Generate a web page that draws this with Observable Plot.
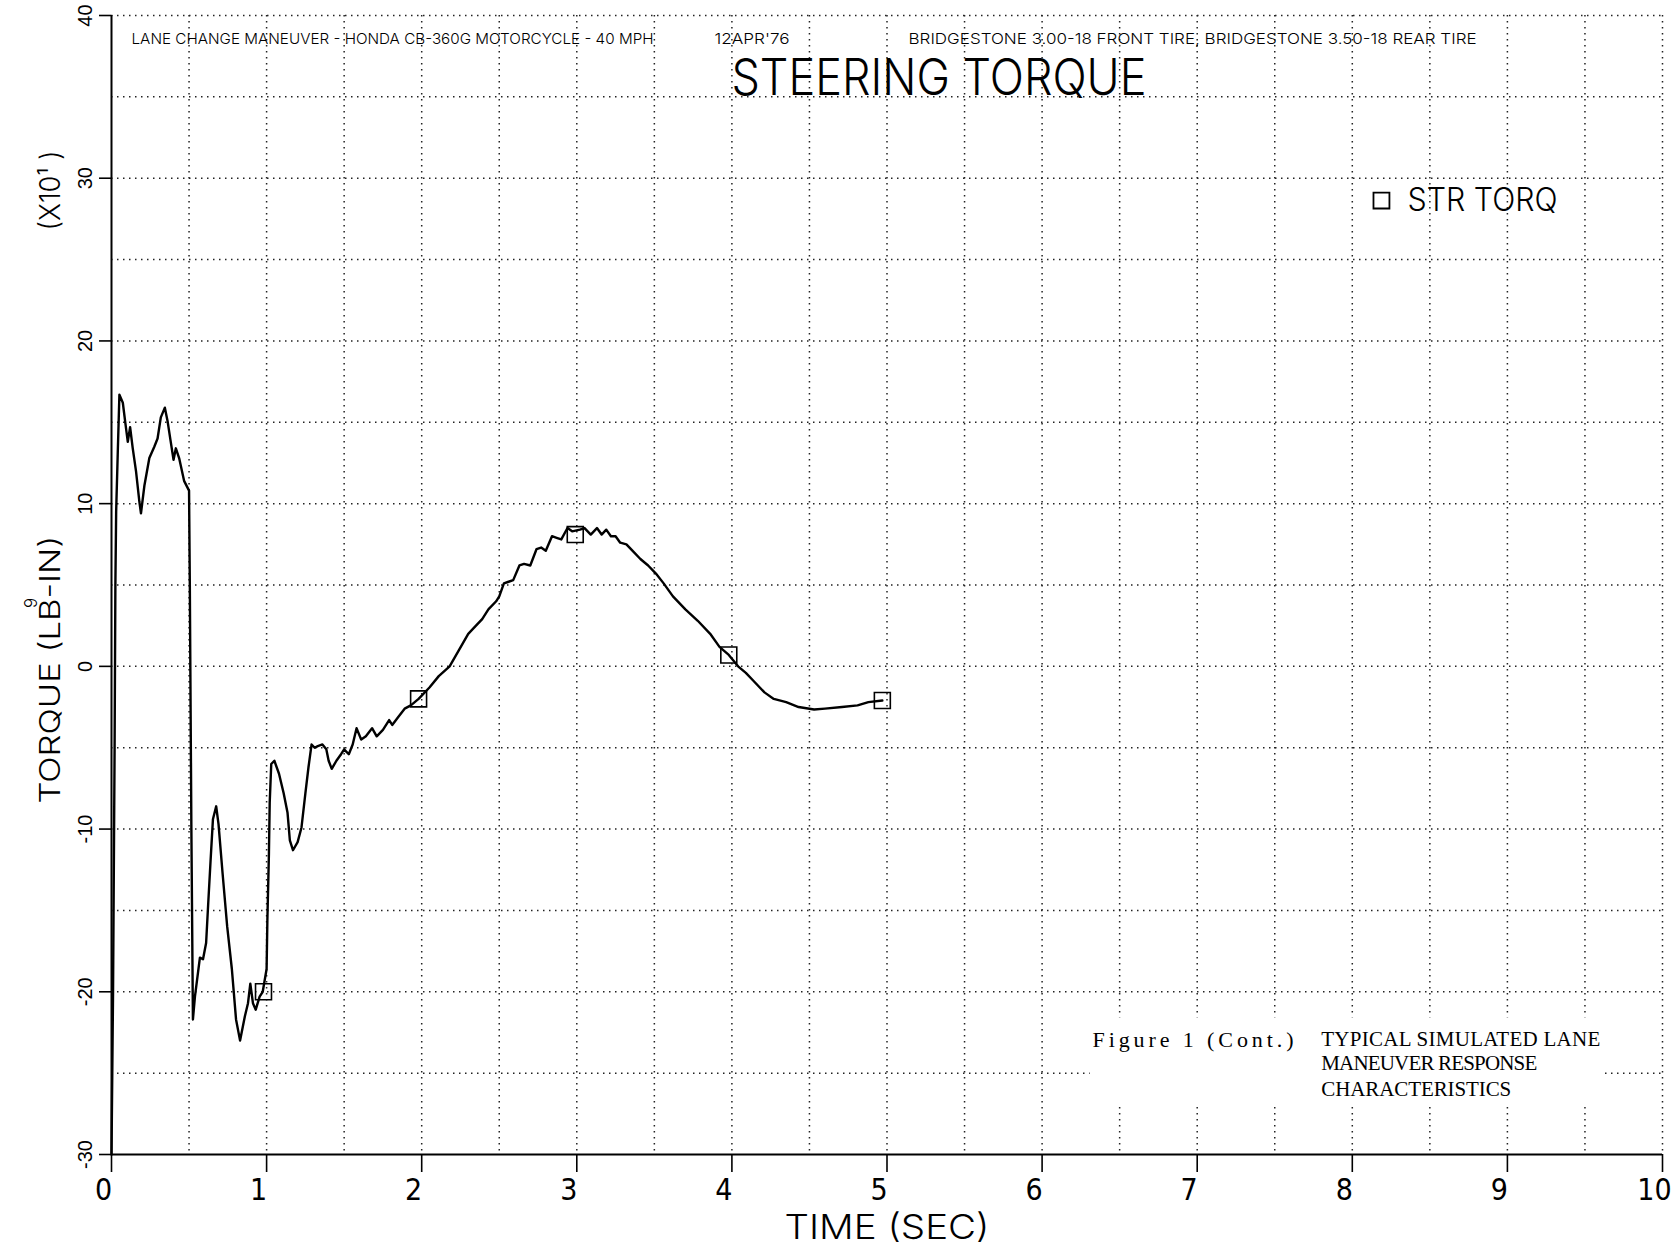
<!DOCTYPE html>
<html><head><meta charset="utf-8">
<script src="https://cdn.jsdelivr.net/npm/d3@7"></script>
<script src="https://cdn.jsdelivr.net/npm/@observablehq/plot@0.6"></script>
<style>
html,body{margin:0;padding:0;background:#fff;}
#chart{width:1679px;height:1246px;overflow:hidden;}
</style></head><body><div id="chart"></div>
<script>
// ---- data ----
const timeSec = [0.00,0.01,0.02,0.025,0.03,0.04,0.051,0.073,0.09,0.105,0.12,0.137,0.158,0.18,0.19,0.212,0.244,0.276,0.297,0.318,0.344,0.361,0.382,0.40,0.415,0.436,0.468,0.50,0.505,0.515,0.525,0.538,0.57,0.59,0.61,0.624,0.639,0.654,0.675,0.69,0.716,0.746,0.776,0.803,0.829,0.86,0.88,0.895,0.912,0.93,0.955,0.975,1.00,1.005,1.015,1.02,1.03,1.05,1.08,1.11,1.135,1.15,1.17,1.20,1.225,1.25,1.27,1.29,1.31,1.33,1.36,1.385,1.40,1.42,1.45,1.48,1.50,1.53,1.555,1.58,1.61,1.64,1.68,1.71,1.75,1.79,1.81,1.85,1.89,1.93,1.98,2.05,2.11,2.18,2.24,2.30,2.35,2.39,2.43,2.48,2.50,2.53,2.56,2.59,2.63,2.66,2.70,2.74,2.77,2.80,2.84,2.87,2.90,2.94,2.97,3.02,3.05,3.09,3.13,3.16,3.19,3.22,3.25,3.28,3.32,3.36,3.41,3.46,3.51,3.56,3.62,3.70,3.78,3.86,3.92,3.98,4.04,4.09,4.14,4.21,4.27,4.35,4.43,4.53,4.60,4.71,4.81,4.88,4.97];
const torque = [-30.0,-20.0,-5.0,5.0,9.5,13.0,16.7,16.2,14.9,13.8,14.7,13.4,12.0,10.1,9.4,11.1,12.8,13.5,14.0,15.3,15.9,15.1,13.8,12.7,13.4,12.8,11.4,10.8,5.0,-10.0,-21.7,-20.3,-17.9,-18.0,-17.0,-14.5,-11.9,-9.4,-8.6,-9.7,-12.7,-16.0,-18.6,-21.7,-23.0,-21.5,-20.7,-19.5,-20.7,-21.1,-20.3,-20.0,-18.6,-15.6,-11.5,-8.4,-6.0,-5.8,-6.6,-7.8,-9.0,-10.7,-11.3,-10.8,-9.9,-7.8,-6.2,-4.8,-5.0,-4.9,-4.8,-5.1,-5.8,-6.3,-5.8,-5.4,-5.1,-5.4,-4.8,-3.8,-4.5,-4.3,-3.8,-4.3,-3.9,-3.3,-3.6,-3.1,-2.6,-2.4,-2.0,-1.3,-0.6,0.0,1.0,2.0,2.5,2.9,3.5,4.0,4.3,5.1,5.2,5.3,6.2,6.3,6.2,7.2,7.3,7.1,8.0,7.9,7.8,8.5,8.3,8.4,8.5,8.1,8.5,8.1,8.4,8.0,8.0,7.6,7.5,7.1,6.6,6.2,5.7,5.1,4.3,3.5,2.8,2.0,1.2,0.7,0.0,-0.4,-0.9,-1.6,-2.0,-2.2,-2.5,-2.65,-2.6,-2.5,-2.4,-2.2,-2.1];
const markerTime = [0.98, 1.98, 2.99, 3.98, 4.97];
const markerTorque = [-20.0, -2.0, 8.1, 0.7, -2.1];
const xTickValues = [0,1,2,3,4,5,6,7,8,9,10];
const yTickValues = [-30,-20,-10,0,10,20,30,40];
const xGridValues = [0.5,1,1.5,2,2.5,3,3.5,4,4.5,5,5.5,6,6.5,7,7.5,8,8.5,9,9.5,10];
const yGridValues = [-25,-20,-15,-10,-5,0,5,10,15,20,25,30,35,40];
const headerLeft = "LANE CHANGE MANEUVER - HONDA CB-360G MOTORCYCLE - 40 MPH";
const headerDate = "12APR'76";
const headerRight = "BRIDGESTONE 3.00-18 FRONT TIRE, BRIDGESTONE 3.50-18 REAR TIRE";
const titleText = "STEERING TORQUE";
const legendLabel = "STR TORQ";
const xLabel = "TIME (SEC)";
const yLabel = "TORQUE (LB-IN)";
const yScaleNote = "(X10\u00B9 )";
const yFootnote = "9";
const captionLeft = "Figure 1 (Cont.)";
const captionRight = ["TYPICAL SIMULATED LANE", "MANEUVER RESPONSE", "CHARACTERISTICS"];

// ---- build tables ----
const curve = timeSec.map((t, i) => ({t, v: torque[i]}));
const markers = markerTime.map((t, i) => ({t, v: markerTorque[i]}));

const narrowFont = "'Liberation Sans Narrow', 'DejaVu Sans Condensed', sans-serif";
const thinFont = "Inter, 'Liberation Sans Narrow', sans-serif";
const tickFontY = "'Liberation Sans', 'DejaVu Sans', sans-serif";
const typeFont = "'Liberation Serif', 'DejaVu Serif', serif";
const dotted = {stroke: "#222", strokeOpacity: 1, strokeWidth: 1.5, strokeDasharray: "1.5,4.5"};
const thin = {fontFamily: thinFont, fontWeight: 300};

const chart = Plot.plot({
  width: 1679, height: 1246,
  marginLeft: 111, marginRight: 17, marginTop: 15, marginBottom: 92,
  x: {domain: [0, 10]},
  y: {domain: [-30, 40]},
  style: {fontFamily: narrowFont, background: "white", color: "black", overflow: "visible"},
  marks: [
    Plot.gridX(xGridValues, dotted),
    Plot.gridY(yGridValues, dotted),
    // blank patch under the pasted caption
    Plot.rect([captionLeft], {x1: () => 6.31, x2: () => 9.63, y1: () => -26.9, y2: () => -21.6, fill: "white"}),
    Plot.ruleX([0], {stroke: "black", strokeWidth: 2}),
    Plot.ruleY([-30], {stroke: "black", strokeWidth: 2}),
    Plot.axisX({ticks: xTickValues, tickSize: 18, tickFormat: () => "", label: null, stroke: "black", strokeWidth: 1.6}),
    Plot.axisY({ticks: yTickValues, tickSize: 12, tickFormat: () => "", label: null, stroke: "black", strokeWidth: 1.6}),
    Plot.text(xTickValues, {x: d => d, y: () => -30, dx: -8, dy: 36, text: d => String(d), fontSize: 30, lineAnchor: "middle", textAnchor: "middle"}),
    Plot.text(yTickValues, {x: () => 0, y: d => d, dx: -26, text: d => String(d), fontFamily: tickFontY, fontSize: 20, rotate: -90, lineAnchor: "middle", textAnchor: "middle"}),
    // data
    Plot.line(curve, {x: "t", y: "v", stroke: "black", strokeWidth: 2.4, strokeLinejoin: "round"}),
    Plot.dot(markers, {x: "t", y: "v", symbol: "square", r: 9, stroke: "black", strokeWidth: 1.6, fill: "none"}),
    // legend
    Plot.dot([legendLabel], {x: () => 8.188, y: () => 28.63, symbol: "square", r: 9, stroke: "black", strokeWidth: 1.8, fill: "none"}),
    Plot.text([legendLabel], {x: () => 8.356, y: () => 28.63, text: d => d, fontSize: 32, textAnchor: "start", lineAnchor: "middle", ...thin}),
    // headers
    Plot.text([headerLeft], {x: () => 0.129, y: () => 38.55, text: d => d, fontSize: 15, textAnchor: "start", lineAnchor: "middle", ...thin}),
    Plot.text([headerDate], {x: () => 3.888, y: () => 38.55, text: d => d, fontSize: 15, textAnchor: "start", lineAnchor: "middle", ...thin}),
    Plot.text([headerRight], {x: () => 5.139, y: () => 38.55, text: d => d, fontSize: 15, textAnchor: "start", lineAnchor: "middle", ...thin}),
    Plot.text([titleText], {x: () => 3.997, y: () => 36.1, text: d => d, fontSize: 50, textAnchor: "start", lineAnchor: "middle", ...thin}),
    // axis titles
    Plot.text([xLabel], {x: () => 5, y: () => -30, dy: 74, text: d => d, fontSize: 34, textAnchor: "middle", lineAnchor: "middle", ...thin}),
    Plot.text([yLabel], {x: () => 0, y: () => -0.2, dx: -60, text: d => d, fontSize: 28, rotate: -90, textAnchor: "middle", lineAnchor: "middle", ...thin}),
    Plot.text([yScaleNote], {x: () => 0, y: () => 29.24, dx: -60, text: d => d, fontSize: 28, rotate: -90, textAnchor: "middle", lineAnchor: "middle", ...thin}),
    Plot.text([yFootnote], {x: () => 0, y: () => 3.9, dx: -80, text: d => d, fontSize: 17, rotate: -90, textAnchor: "middle", lineAnchor: "middle", ...thin}),
    // caption
    Plot.text([captionLeft], {x: () => 6.325, y: () => -22.94, text: d => d, fontFamily: typeFont, fontSize: 22, textAnchor: "start", lineAnchor: "middle"}),
    Plot.text(captionRight, {x: () => 7.80, y: (d, i) => [-22.94, -24.41, -26.0][i], text: d => d, fontFamily: typeFont, fontSize: 21, textAnchor: "start", lineAnchor: "middle"})
  ]
});

// fit a few strings to the widths measured on the reference
const fitWidths = new Map([
  [headerLeft, [522, "spacingAndGlyphs"]], [headerDate, [75, "spacingAndGlyphs"]], [headerRight, [568, "spacingAndGlyphs"]],
  [titleText, [415, "spacingAndGlyphs"]], [legendLabel, [150, "spacingAndGlyphs"]], [xLabel, [205, "spacingAndGlyphs"]],
  [yLabel, [268, "spacingAndGlyphs"]], [yScaleNote, [80, "spacingAndGlyphs"]],
  [captionLeft, [201, "spacing"]], [captionRight[0], [279, "spacing"]], [captionRight[1], [216, "spacing"]], [captionRight[2], [190, "spacing"]]
]);
d3.select(chart).selectAll("text").each(function() {
  const f = fitWidths.get(this.textContent);
  if (f) { this.setAttribute("textLength", f[0]); this.setAttribute("lengthAdjust", f[1]); }
});
document.getElementById("chart").appendChild(chart);
</script></body></html>
